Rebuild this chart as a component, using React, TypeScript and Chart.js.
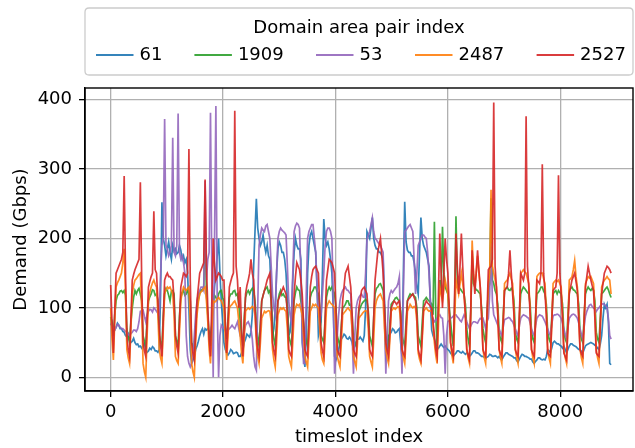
import { useEffect, useRef } from "react";
import { Chart, registerables } from "chart.js";

Chart.register(...registerables);

// ---- data (one sample every 24 timeslots, 12 per day) ----
const seriesLabels = ["61", "1909", "53", "2487", "2527"];
const legendTitle = "Domain area pair index";
const xTitle = "timeslot index";
const yTitle = "Demand (Gbps)";
const xTickValues = [0, 2000, 4000, 6000, 8000];
const yTickValues = [0, 100, 200, 300, 400];

const SAMPLE_STEP = 24;
const SAMPLE_COUNT = 372;
const timeslots = Array.from({ length: SAMPLE_COUNT }, (_, i) => i * SAMPLE_STEP);

const demand61 = [
  75, 80, 70, 68, 72, 78, 75, 70, 70, 66, 65, 60,
  58, 62, 55, 50, 52, 56, 50, 47, 48, 44, 45, 42,
  45, 48, 40, 36, 38, 42, 40, 44, 42, 38, 38, 36,
  40, 120, 252, 200, 190, 175, 185, 195, 180, 170, 190, 182,
  185, 178, 180, 190, 183, 170, 175, 165, 170, 150, 100, 40,
  20, 25, 30, 40, 45, 52, 60, 66, 70, 62, 70, 68,
  70, 66, 60, 75, 100, 130, 150, 175, 200, 150, 110, 80,
  50, 40, 35, 32, 35, 40, 38, 34, 35, 36, 35, 30,
  30, 35, 40, 50, 55, 62, 60, 58, 65, 90, 160, 210,
  257, 215, 200, 190, 195, 205, 190, 180, 190, 175, 170, 120,
  60, 70, 100, 150, 185, 195, 190, 180, 180, 170, 150, 110,
  60, 65, 90, 140, 180, 200, 190, 185, 185, 170, 50, 30,
  15, 60, 150, 190, 205, 210, 200, 190, 180, 130, 60, 70,
  80, 150, 228, 200, 190, 195, 185, 170, 150, 100, 30, 25,
  30, 40, 50, 55, 58, 62, 60, 56, 55, 58, 55, 50,
  40, 45, 50, 55, 55, 58, 55, 52, 60, 100, 210, 205,
  200, 215, 230, 200, 190, 185, 185, 180, 180, 175, 170, 110,
  30, 40, 60, 62, 65, 70, 68, 64, 65, 68, 70, 50,
  30, 150, 253, 195, 183, 180, 180, 175, 175, 165, 150, 130,
  120, 180, 230, 200, 190, 185, 180, 170, 160, 110, 68, 60,
  55, 48, 40, 42, 45, 48, 45, 43, 45, 42, 40, 38,
  35, 32, 30, 33, 35, 38, 38, 36, 35, 37, 35, 33,
  35, 33, 30, 32, 35, 38, 38, 35, 35, 34, 32, 30,
  30, 29, 28, 29, 30, 33, 32, 30, 30, 31, 30, 28,
  30, 27, 25, 29, 32, 35, 35, 33, 32, 31, 30, 28,
  28, 24, 22, 26, 30, 33, 32, 30, 30, 29, 28, 26,
  26, 22, 20, 23, 25, 28, 28, 26, 25, 26, 25, 30,
  40, 38, 35, 42, 50, 52, 50, 48, 48, 46, 45, 42,
  45, 40, 35, 40, 45, 48, 48, 46, 45, 44, 42, 40,
  40, 37, 35, 40, 45, 47, 48, 49, 50, 49, 48, 46,
  45, 42, 40, 48, 60, 85, 105, 100, 105, 80, 20, 18,
];

const demand1909 = [
  87, 75, 60, 90, 110, 118, 120, 124, 125, 122, 125, 118,
  70, 58, 50, 80, 100, 115, 125, 120, 125, 128, 120, 110,
  60, 52, 45, 85, 110, 116, 120, 126, 125, 118, 120, 112,
  60, 50, 45, 90, 120, 128, 125, 118, 110, 124, 125, 120,
  60, 52, 45, 88, 115, 122, 125, 118, 120, 126, 120, 110,
  50, 45, 40, 75, 100, 112, 120, 126, 125, 130, 224, 120,
  90, 60, 45, 80, 110, 118, 115, 110, 120, 124, 125, 115,
  110, 70, 55, 85, 115, 120, 120, 124, 125, 118, 120, 105,
  80, 60, 45, 85, 115, 122, 125, 120, 125, 128, 125, 110,
  80, 58, 45, 80, 110, 118, 125, 128, 130, 122, 125, 110,
  70, 55, 45, 80, 110, 120, 125, 118, 120, 116, 115, 100,
  60, 52, 45, 80, 110, 122, 130, 126, 125, 110, 100, 80,
  60, 52, 45, 82, 115, 122, 125, 130, 130, 124, 120, 100,
  60, 55, 50, 85, 115, 125, 130, 126, 130, 125, 120, 100,
  60, 52, 45, 75, 100, 102, 105, 110, 110, 104, 105, 90,
  55, 50, 45, 70, 95, 100, 105, 108, 110, 112, 110, 95,
  60, 52, 45, 85, 120, 128, 130, 134, 135, 130, 125, 100,
  60, 52, 45, 78, 105, 108, 110, 114, 115, 112, 110, 95,
  60, 52, 45, 80, 110, 116, 120, 118, 120, 117, 115, 100,
  60, 52, 45, 80, 110, 112, 115, 112, 110, 108, 105, 90,
  224, 90, 45, 95, 140, 120, 217, 150, 130, 125, 120, 100,
  80, 60, 45, 100, 232, 140, 130, 128, 125, 122, 120, 105,
  70, 55, 45, 95, 175, 135, 130, 126, 125, 122, 120, 100,
  70, 58, 50, 90, 125, 135, 258, 140, 135, 125, 120, 105,
  65, 55, 50, 88, 125, 128, 130, 126, 125, 128, 125, 110,
  65, 55, 50, 85, 120, 126, 130, 128, 125, 122, 120, 105,
  65, 55, 50, 85, 120, 122, 125, 130, 130, 124, 120, 105,
  65, 55, 50, 85, 120, 123, 125, 120, 125, 122, 120, 105,
  65, 55, 50, 88, 125, 128, 130, 126, 125, 122, 120, 105,
  65, 55, 50, 85, 120, 126, 130, 127, 125, 128, 125, 110,
  65, 55, 50, 85, 120, 122, 125, 128, 130, 126, 120, 115,
];

const demand53 = [
  78, 74, 70, 68, 72, 76, 75, 72, 70, 70, 68, 66,
  65, 62, 60, 63, 65, 68, 68, 66, 70, 80, 95, 96,
  97, 88, 80, 90, 95, 98, 97, 94, 100, 98, 95, 92,
  90, 150, 190, 200, 372, 190, 185, 175, 180, 190, 345, 180,
  175, 190, 380, 180, 170, 175, 165, 150, 60, 30, 20, 15,
  20, 35, 60, 90, 110, 120, 125, 130, 130, 125, 283, 140,
  170, 180, 381, 150, 0, 200, 391, 100, 0, 60, 75, 72,
  70, 68, 65, 68, 70, 72, 75, 72, 70, 75, 80, 70,
  60, 56, 55, 65, 75, 78, 80, 75, 70, 55, 30, 15,
  10, 100, 190, 205, 215, 212, 210, 218, 220, 210, 200, 160,
  120, 100, 90, 150, 200, 210, 215, 212, 210, 208, 205, 160,
  110, 90, 80, 150, 210, 218, 222, 220, 215, 150, 60, 20,
  20, 120, 200, 210, 215, 220, 220, 200, 180, 130, 90, 85,
  90, 120, 150, 190, 210, 215, 215, 210, 200, 120, 5, 30,
  60, 90, 110, 120, 125, 128, 130, 126, 125, 122, 120, 60,
  5, 60, 100, 110, 115, 118, 120, 116, 115, 150, 198, 205,
  210, 220, 230, 210, 200, 198, 195, 192, 190, 185, 180, 90,
  5, 60, 110, 120, 125, 122, 125, 128, 130, 135, 145, 60,
  5, 120, 210, 212, 215, 218, 220, 215, 210, 170, 120, 150,
  190, 195, 200, 205, 205, 202, 200, 180, 150, 110, 88, 85,
  80, 82, 85, 88, 90, 86, 85, 60, 5, 60, 80, 82,
  85, 86, 88, 90, 90, 87, 85, 82, 80, 85, 90, 86,
  80, 75, 70, 74, 78, 80, 80, 79, 78, 82, 85, 84,
  85, 78, 70, 80, 85, 120, 193, 110, 90, 85, 80, 75,
  70, 64, 60, 72, 83, 84, 85, 86, 85, 82, 80, 75,
  70, 64, 60, 74, 85, 88, 90, 89, 88, 86, 85, 78,
  70, 64, 60, 74, 85, 88, 90, 89, 88, 84, 80, 75,
  70, 64, 60, 76, 88, 90, 90, 91, 90, 88, 85, 78,
  70, 62, 55, 72, 85, 88, 90, 91, 90, 88, 85, 78,
  70, 62, 55, 72, 88, 95, 100, 104, 105, 102, 100, 98,
  95, 98, 100, 103, 105, 106, 105, 103, 100, 85, 60, 55,
];

const demand2487 = [
  100, 55, 25, 80, 130, 136, 140, 145, 150, 165, 185, 120,
  40, 28, 20, 70, 120, 132, 140, 142, 145, 148, 150, 100,
  20, 8, 0, 60, 110, 122, 130, 136, 140, 134, 130, 90,
  40, 28, 20, 70, 120, 126, 130, 128, 130, 125, 120, 90,
  30, 24, 20, 65, 110, 122, 130, 127, 125, 128, 130, 80,
  20, 8, 0, 50, 90, 108, 120, 123, 125, 128, 130, 110,
  80, 40, 20, 65, 110, 108, 110, 113, 115, 112, 110, 105,
  100, 55, 25, 60, 100, 103, 105, 108, 110, 105, 100, 80,
  60, 35, 20, 55, 95, 98, 100, 98, 100, 102, 100, 90,
  50, 30, 20, 50, 85, 90, 95, 93, 95, 96, 95, 80,
  40, 25, 15, 50, 90, 96, 100, 98, 100, 97, 95, 70,
  30, 22, 15, 50, 90, 100, 105, 103, 105, 98, 90, 60,
  30, 22, 15, 55, 95, 100, 105, 103, 105, 102, 100, 70,
  35, 25, 20, 60, 100, 106, 110, 107, 105, 103, 100, 70,
  30, 22, 15, 50, 90, 93, 95, 98, 100, 97, 95, 70,
  30, 22, 15, 50, 85, 88, 90, 93, 95, 96, 95, 70,
  30, 22, 15, 55, 100, 110, 115, 118, 120, 115, 110, 70,
  40, 28, 20, 55, 95, 98, 100, 98, 100, 102, 100, 80,
  40, 28, 20, 55, 95, 100, 105, 102, 100, 102, 100, 80,
  35, 26, 20, 55, 95, 98, 100, 97, 95, 96, 95, 75,
  50, 32, 20, 75, 130, 120, 110, 125, 140, 130, 120, 90,
  50, 32, 20, 80, 140, 130, 120, 135, 150, 135, 120, 90,
  40, 28, 20, 100, 197, 150, 130, 150, 175, 150, 130, 90,
  40, 28, 20, 75, 135, 150, 270, 160, 150, 140, 130, 90,
  40, 28, 20, 75, 135, 138, 140, 145, 150, 142, 135, 95,
  40, 28, 20, 80, 150, 152, 155, 152, 150, 142, 135, 95,
  40, 28, 20, 80, 145, 148, 150, 150, 150, 142, 135, 95,
  40, 28, 20, 75, 135, 138, 140, 138, 140, 135, 130, 90,
  40, 28, 20, 78, 140, 142, 145, 155, 168, 145, 130, 90,
  40, 28, 20, 75, 135, 140, 145, 143, 145, 140, 135, 95,
  40, 28, 20, 72, 130, 136, 140, 142, 145, 142, 140, 120,
];

const demand2527 = [
  133, 80, 35, 95, 150, 155, 160, 165, 170, 180, 290, 150,
  60, 40, 30, 85, 140, 148, 155, 160, 165, 170, 281, 140,
  50, 38, 30, 80, 130, 138, 145, 150, 239, 155, 150, 110,
  70, 45, 30, 85, 140, 146, 150, 145, 145, 142, 140, 110,
  60, 45, 35, 80, 130, 140, 150, 148, 145, 150, 329, 140,
  50, 35, 25, 65, 110, 130, 150, 155, 160, 165, 285, 160,
  100, 55, 30, 110, 200, 160, 140, 145, 150, 148, 145, 140,
  140, 80, 35, 80, 130, 138, 145, 150, 384, 160, 140, 100,
  130, 70, 30, 75, 120, 132, 140, 150, 170, 150, 140, 100,
  60, 40, 30, 70, 110, 118, 125, 132, 140, 145, 150, 110,
  50, 38, 30, 70, 110, 115, 120, 125, 130, 125, 120, 90,
  40, 34, 30, 75, 120, 145, 165, 160, 155, 140, 120, 80,
  40, 34, 30, 80, 130, 145, 155, 158, 160, 155, 150, 100,
  50, 38, 30, 85, 140, 155, 170, 168, 165, 158, 150, 100,
  40, 34, 30, 70, 110, 130, 150, 155, 160, 145, 130, 90,
  40, 34, 30, 65, 100, 112, 125, 128, 130, 125, 120, 90,
  40, 34, 30, 85, 140, 160, 180, 190, 200, 175, 150, 100,
  50, 38, 30, 65, 100, 105, 110, 108, 105, 108, 110, 90,
  40, 34, 30, 70, 110, 113, 115, 118, 120, 115, 110, 90,
  40, 32, 25, 62, 100, 105, 110, 107, 105, 102, 100, 80,
  60, 40, 30, 120, 207, 150, 100, 150, 200, 170, 150, 100,
  50, 38, 30, 120, 207, 160, 120, 160, 207, 160, 120, 90,
  40, 32, 25, 100, 183, 150, 120, 150, 183, 155, 130, 90,
  40, 34, 30, 90, 155, 158, 160, 170, 396, 160, 130, 90,
  40, 34, 30, 78, 125, 128, 130, 150, 183, 150, 120, 90,
  40, 34, 30, 90, 150, 145, 140, 150, 376, 160, 130, 90,
  40, 34, 30, 85, 140, 138, 135, 150, 307, 150, 120, 90,
  35, 32, 30, 78, 125, 128, 130, 150, 291, 150, 120, 85,
  35, 30, 25, 72, 120, 130, 140, 145, 150, 138, 125, 85,
  40, 34, 30, 80, 130, 145, 160, 150, 140, 132, 125, 85,
  35, 32, 30, 75, 120, 135, 150, 155, 160, 158, 155, 150,
];

const seriesValues = [demand61, demand1909, demand53, demand2487, demand2527];
const seriesColors = [
  "rgba(31,119,180,0.9)",
  "rgba(44,160,44,0.9)",
  "rgba(148,103,189,0.9)",
  "rgba(255,127,14,0.9)",
  "rgba(214,39,40,0.9)",
];

const FONT = "'DejaVu Sans', 'Liberation Sans', sans-serif";

const framePlugin = {
  id: "frame",
  afterDatasetsDraw(chart: any) {
    const { ctx, chartArea } = chart;
    ctx.save();
    ctx.strokeStyle = "#000";
    ctx.lineWidth = 1.4;
    ctx.strokeRect(chartArea.left, chartArea.top, chartArea.right - chartArea.left, chartArea.bottom - chartArea.top);
    ctx.restore();
  },
};

const legendPlugin = {
  id: "boxLegend",
  afterDraw(chart: any) {
    const { ctx, chartArea } = chart;
    const left = chartArea.left;
    const right = chartArea.right;
    const top = 8;
    const bottom = 75;
    ctx.save();
    ctx.beginPath();
    const r = 4;
    ctx.moveTo(left + r, top);
    ctx.lineTo(right - r, top);
    ctx.quadraticCurveTo(right, top, right, top + r);
    ctx.lineTo(right, bottom - r);
    ctx.quadraticCurveTo(right, bottom, right - r, bottom);
    ctx.lineTo(left + r, bottom);
    ctx.quadraticCurveTo(left, bottom, left, bottom - r);
    ctx.lineTo(left, top + r);
    ctx.quadraticCurveTo(left, top, left + r, top);
    ctx.closePath();
    ctx.fillStyle = "rgba(255,255,255,0.8)";
    ctx.fill();
    ctx.strokeStyle = "#cccccc";
    ctx.lineWidth = 1.3;
    ctx.stroke();

    ctx.font = `18px ${FONT}`;
    ctx.fillStyle = "#000";
    ctx.textAlign = "center";
    ctx.textBaseline = "middle";
    ctx.fillText(legendTitle, (left + right) / 2, 28);

    const starts = [96, 194.4, 316, 415, 536.6];
    const rowY = 55;
    chart.data.datasets.forEach((ds: any, i: number) => {
      const x0 = starts[i];
      ctx.strokeStyle = ds.borderColor;
      ctx.lineWidth = 1.8;
      ctx.beginPath();
      ctx.moveTo(x0, rowY);
      ctx.lineTo(x0 + 37.5, rowY);
      ctx.stroke();
      ctx.fillStyle = "#000";
      ctx.textAlign = "left";
      ctx.fillText(ds.label, x0 + 43.5, rowY);
    });
    ctx.restore();
  },
};

export default function App() {
  const canvasRef = useRef<HTMLCanvasElement | null>(null);

  useEffect(() => {
    if (!canvasRef.current) return;
    Chart.defaults.font.family = FONT;
    Chart.defaults.font.size = 18;
    Chart.defaults.color = "#000";

    const datasets = seriesLabels.map((label, i) => ({
      label,
      data: timeslots.map((t, j) => ({ x: t, y: seriesValues[i][j] })),
      borderColor: seriesColors[i],
      backgroundColor: seriesColors[i],
      borderWidth: 1.7,
      pointRadius: 0,
      tension: 0,
      fill: false,
      order: seriesLabels.length - 1 - i,
    }));

    const chart = new Chart(canvasRef.current, {
      type: "line",
      data: { datasets },
      options: {
        animation: false,
        responsive: false,
        devicePixelRatio: 1,
        layout: { padding: { top: 88, right: 2, left: 0, bottom: 0 } },
        plugins: { legend: { display: false }, tooltip: { enabled: false } },
        scales: {
          x: {
            type: "linear",
            min: -457,
            max: 9294,
            afterFit: (s: any) => {
              s.height = 57;
            },
            afterBuildTicks: (s: any) => {
              s.ticks = xTickValues.map((v) => ({ value: v }));
            },
            ticks: {
              stepSize: 2000,
              includeBounds: false,
              padding: 5,
              maxRotation: 0,
              autoSkip: false,
              color: "#000",
              font: { size: 18 },
              callback: (v: any) => String(v),
            },
            grid: { color: "#b0b0b0", lineWidth: 1.3, tickColor: "#000", tickLength: 6, tickWidth: 1.3 },
            border: { color: "#000", width: 1.4 },
            title: { display: true, text: xTitle, color: "#000", font: { size: 18 }, padding: { top: 0, bottom: 0 } },
          },
          y: {
            type: "linear",
            min: -19.8,
            max: 416.8,
            afterFit: (s: any) => {
              s.width = 85;
            },
            afterBuildTicks: (s: any) => {
              s.ticks = yTickValues.map((v) => ({ value: v }));
            },
            ticks: {
              stepSize: 100,
              includeBounds: false,
              padding: 7,
              color: "#000",
              font: { size: 18 },
              callback: (v: any) => String(v),
            },
            grid: { color: "#b0b0b0", lineWidth: 1.3, tickColor: "#000", tickLength: 6, tickWidth: 1.3 },
            border: { color: "#000", width: 1.4 },
            title: { display: true, text: yTitle, color: "#000", font: { size: 18 }, padding: { top: 11, bottom: 0 } },
          },
        },
      },
      plugins: [framePlugin, legendPlugin],
    } as any);

    return () => chart.destroy();
  }, []);

  return (
    <div style={{ position: "fixed", left: 0, top: 0, width: 635, height: 448, background: "#fff" }}>
      <canvas ref={canvasRef} width={635} height={448} style={{ display: "block" }} />
    </div>
  );
}
